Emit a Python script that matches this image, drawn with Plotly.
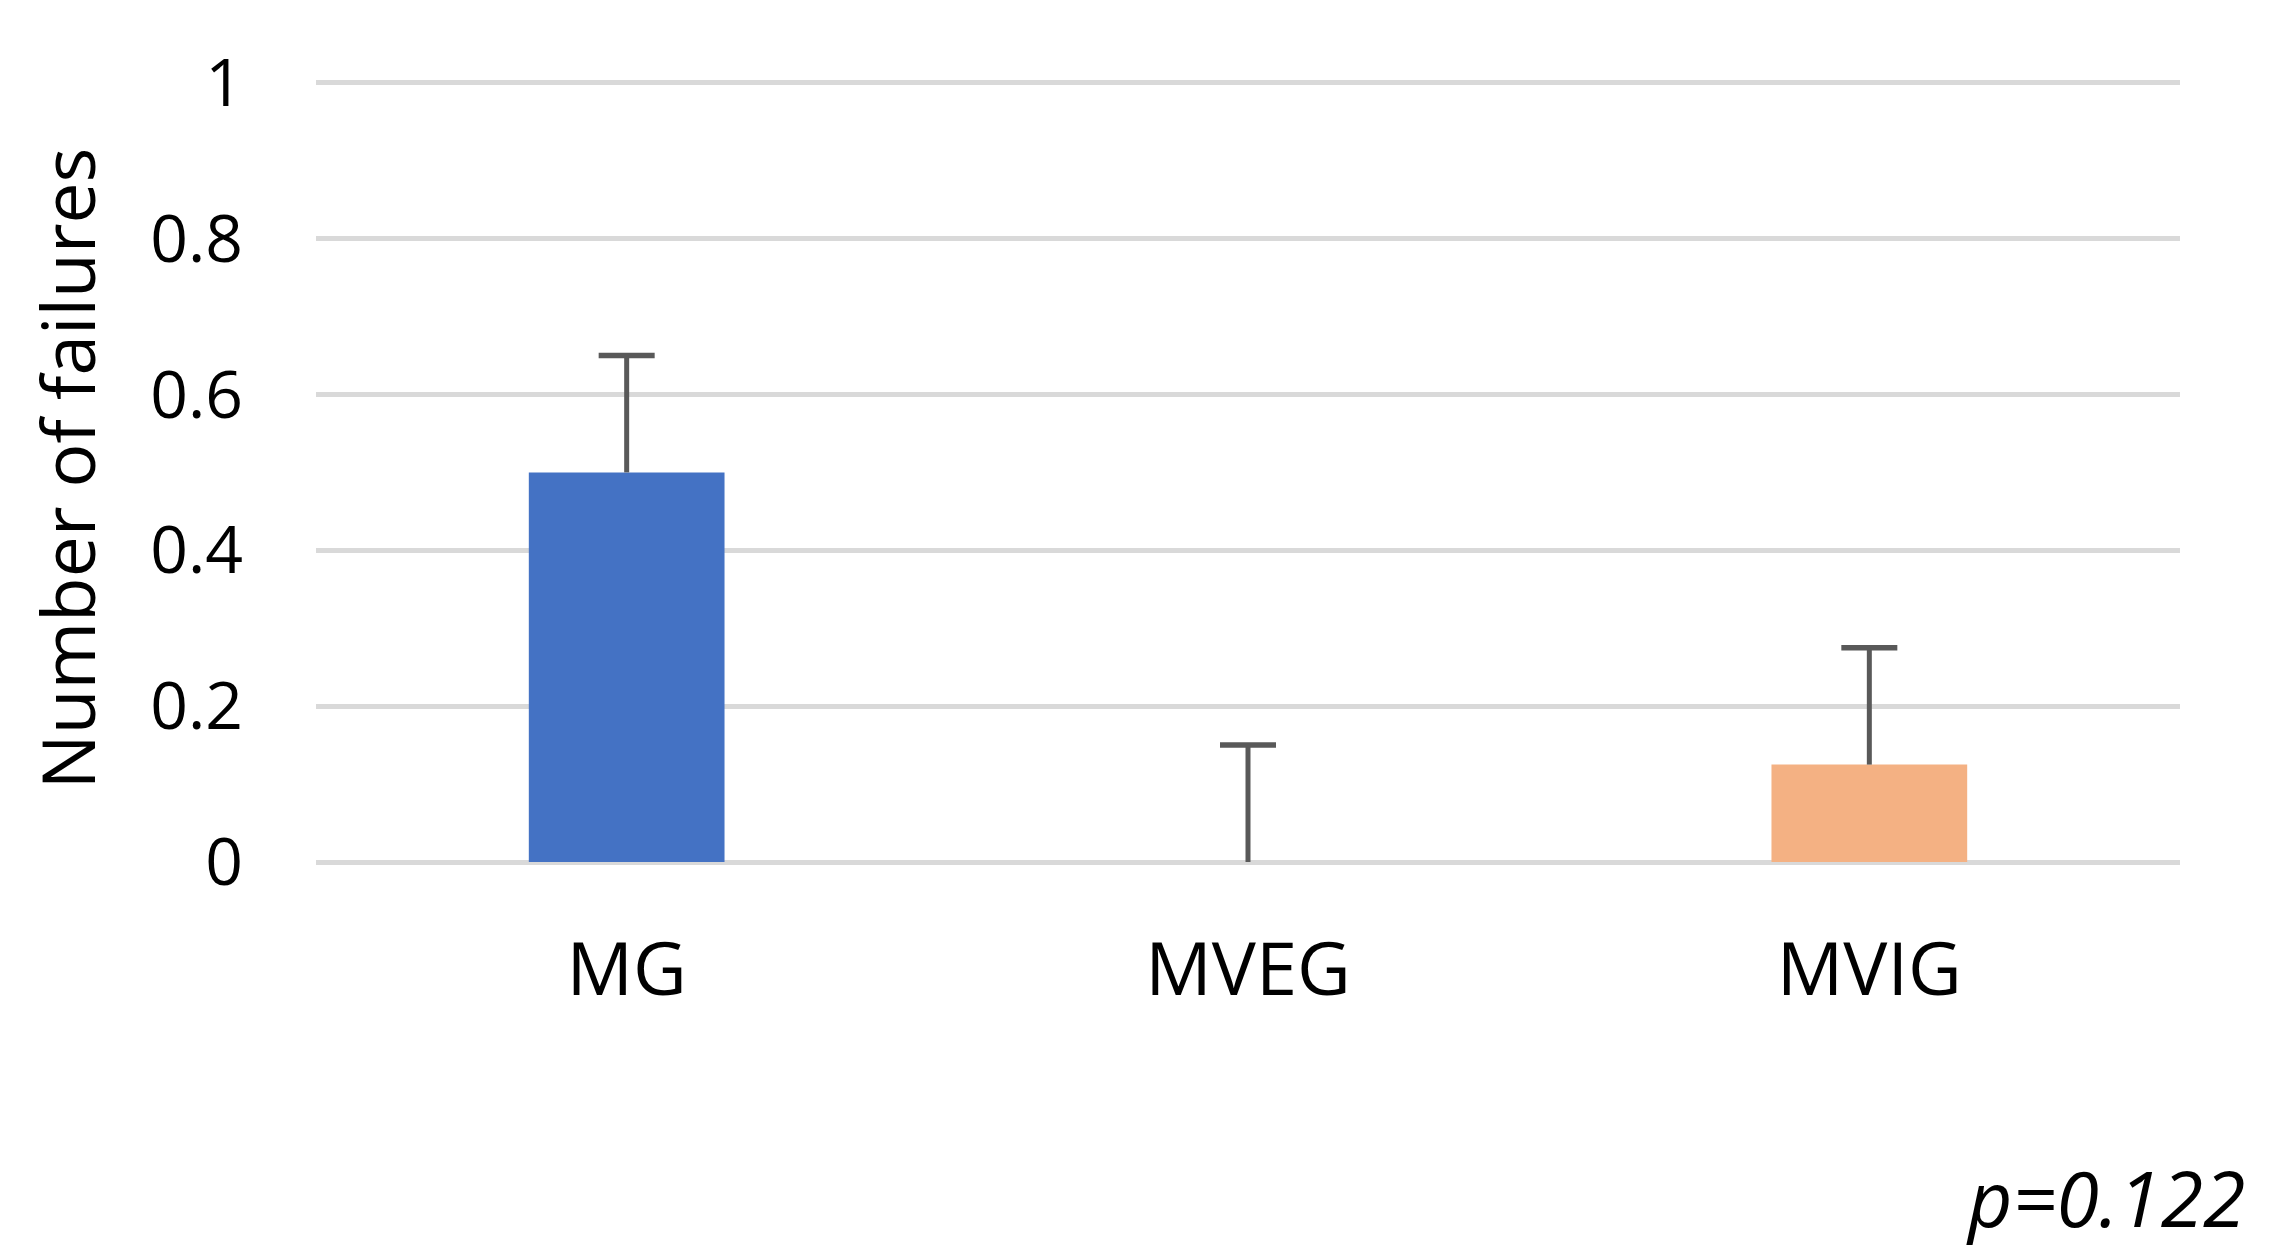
import plotly.graph_objects as go

categories = ["MG", "MVEG", "MVIG"]
values = [0.5, 0.0, 0.125]
err_plus = [0.15, 0.15, 0.15]
bar_colors = ["#4472C4", "#A5A5A5", "#F4B183"]
y_ticks = [0, 0.2, 0.4, 0.6, 0.8, 1]
y_tick_text = ["0", "0.2", "0.4", "0.6", "0.8", "1"]

# page body has an 8px margin; figure sized to fit the window
W, H = 2255, 1243
L, T, B = 308, 67, 389
R = W - 2172
plot_top, plot_bottom = T, H - B

fig = go.Figure()
fig.add_trace(go.Bar(
    x=categories, y=values,
    marker=dict(color=bar_colors, line=dict(width=0)),
    showlegend=False, hoverinfo="x+y",
))

# plus-only error bars: whisker lines + top caps
wx, wy = [], []
for c, v, e in zip(categories, values, err_plus):
    wx += [c, c, None]
    wy += [v, v + e, None]
fig.add_trace(go.Scatter(
    x=wx, y=wy, mode="lines",
    line=dict(color="#595959", width=5),
    showlegend=False, hoverinfo="skip",
))
fig.add_trace(go.Scatter(
    x=categories, y=[v + e for v, e in zip(values, err_plus)],
    mode="markers",
    marker=dict(symbol="line-ew", size=40, line=dict(color="#595959", width=5.5)),
    showlegend=False, hoverinfo="skip",
))

fig.update_layout(
    width=W, height=H,
    margin=dict(l=L, r=R, t=T, b=B, pad=0),
    paper_bgcolor="white", plot_bgcolor="white",
    bargap=0.685,
    font=dict(family="Open Sans", color="#000000"),
    xaxis=dict(
        showgrid=False, showline=False, zeroline=False,
        tickfont=dict(size=74, color="#000000"),
        ticks="", ticklabelstandoff=58,
    ),
    yaxis=dict(
        range=[0, 1.01], tickvals=y_ticks, ticktext=y_tick_text,
        showgrid=True, gridcolor="#D9D9D9", gridwidth=4.5,
        zeroline=True, zerolinecolor="#D9D9D9", zerolinewidth=4.5,
        showline=False,
        tickfont=dict(size=66, color="#000000"),
        ticks="", ticklabelstandoff=72,
        title=dict(text="Number of failures", font=dict(size=73, color="#000000"), standoff=30),
    ),
    annotations=[dict(
        text="<i>p=0.122</i>", xref="paper", yref="paper",
        x=(2247 - 8 - L) / (2172 - L),
        y=(plot_bottom - (1197 - 8)) / (plot_bottom - plot_top),
        xanchor="right", yanchor="middle", showarrow=False,
        font=dict(size=77, color="#000000", family="Open Sans"),
    )],
)

fig.write_html("out.html")
